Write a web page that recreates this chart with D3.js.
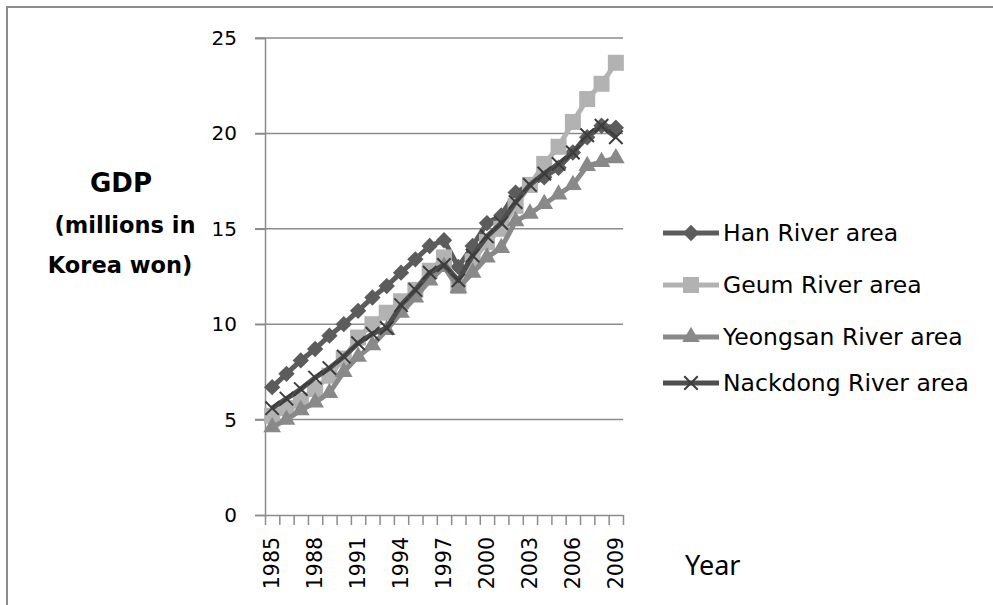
<!DOCTYPE html>
<html>
<head>
<meta charset="utf-8">
<script src="https://cdn.jsdelivr.net/npm/d3@7"></script>
<style>
  body { margin: 0; background: #fff; }
  svg { display: block; }
</style>
</head>
<body>
<div id="chart"></div>
<script>
// GDP by river basin, 1985-2009
const years = d3.range(1985, 2010).map(String);
const yTicks = [0, 5, 10, 15, 20, 25];

const hanRiver      = [6.7, 7.4, 8.1, 8.7, 9.4, 10.0, 10.7, 11.4, 12.0, 12.7, 13.4, 14.1, 14.4, 13.0, 14.1, 15.3, 15.7, 16.9, 17.3, 17.7, 18.2, 19.0, 19.8, 20.4, 20.3];
const geumRiver     = [5.2, 5.6, 6.0, 6.6, 7.3, 8.2, 9.3, 10.0, 10.6, 11.2, 11.8, 12.8, 13.5, 12.0, 13.3, 14.3, 15.0, 16.2, 17.3, 18.4, 19.3, 20.6, 21.8, 22.6, 23.7];
const yeongsanRiver = [4.6, 5.0, 5.5, 5.9, 6.4, 7.5, 8.3, 8.9, 9.7, 10.6, 11.4, 12.3, 13.0, 11.9, 12.7, 13.5, 14.0, 15.4, 15.8, 16.3, 16.8, 17.3, 18.3, 18.5, 18.7];
const nackdongRiver = [5.6, 6.1, 6.6, 7.2, 7.7, 8.3, 9.0, 9.5, 9.8, 11.0, 11.8, 12.7, 13.1, 12.3, 13.6, 14.6, 15.3, 16.4, 17.3, 17.9, 18.4, 19.0, 19.9, 20.4, 19.8];

const seriesNames = ['Han River area', 'Geum River area', 'Yeongsan River area', 'Nackdong River area'];

const series = [
  { name: seriesNames[0], values: hanRiver,      color: '#5c5c5c', marker: 'diamond' },
  { name: seriesNames[1], values: geumRiver,     color: '#b2b2b2', marker: 'square' },
  { name: seriesNames[2], values: yeongsanRiver, color: '#898989', marker: 'triangle' },
  { name: seriesNames[3], values: nackdongRiver, color: '#4e4e4e', marker: 'cross' }
];

const W = 993, H = 605;
const plotLeft = 265, plotRight = 623, plotTop = 38, plotBottom = 515;

const svg = d3.select('#chart').append('svg')
    .attr('width', W)
    .attr('height', H);

// outer frame (runs off the right and bottom edges)
svg.append('rect')
    .attr('x', 7).attr('y', 7)
    .attr('width', 1100).attr('height', 700)
    .attr('fill', 'none')
    .attr('stroke', '#8c8c8c')
    .attr('stroke-width', 2);

let x = d3.scaleBand().domain(years).range([plotLeft, plotRight]).padding(0);
let xEdge = d3.scaleLinear().domain([0, years.length]).range([plotLeft, plotRight]);
let y = d3.scaleLinear().domain([0, 25]).range([plotBottom, plotTop]);

// gridlines
svg.append('g')
    .selectAll('line')
    .data(yTicks.filter(d => d > 0))
    .join('line')
      .attr('x1', plotLeft - 10).attr('x2', plotRight)
      .attr('y1', d => y(d)).attr('y2', d => y(d))
      .attr('stroke', '#8c8c8c')
      .attr('stroke-width', 1.5);

// Y axis
let yAxis = svg.append('g')
    .attr('transform', 'translate(' + plotLeft + ',0)')
    .call(d3.axisLeft(y).tickValues(yTicks).tickSize(10).tickPadding(18));
yAxis.select('.domain').attr('stroke', '#8c8c8c').attr('stroke-width', 1.5);
yAxis.selectAll('.tick line').attr('stroke', '#8c8c8c').attr('stroke-width', 1.5);
yAxis.selectAll('.tick text')
    .attr('font-family', 'DejaVu Sans')
    .attr('font-size', 20)
    .attr('fill', '#000');

// X axis: tick marks between categories
let xTickAxis = svg.append('g')
    .attr('transform', 'translate(0,' + plotBottom + ')')
    .call(d3.axisBottom(xEdge).tickValues(d3.range(0, years.length + 1)).tickFormat('').tickSize(10).tickSizeOuter(0));
xTickAxis.select('.domain').attr('stroke', '#8c8c8c').attr('stroke-width', 1.5);
xTickAxis.selectAll('.tick line').attr('stroke', '#8c8c8c').attr('stroke-width', 1.5);

// X labels every third year, rotated
svg.append('g')
    .selectAll('text')
    .data(years.filter((d, i) => i % 3 === 0))
    .join('text')
      .attr('transform', d => 'translate(' + (x(d) + x.bandwidth() / 2 + 7) + ',' + (plotBottom + 22) + ') rotate(-90)')
      .attr('text-anchor', 'end')
      .attr('font-family', 'DejaVu Sans')
      .attr('font-size', 20.5)
      .text(d => d);

// axis titles
let yTitle = svg.append('g')
    .attr('font-family', 'DejaVu Sans')
    .attr('font-weight', 'bold')
    .attr('text-anchor', 'middle');
yTitle.append('text').attr('x', 121).attr('y', 192).attr('font-size', 26).text('GDP');
yTitle.append('text').attr('x', 125).attr('y', 233).attr('font-size', 22.5).text('(millions in');
yTitle.append('text').attr('x', 120).attr('y', 273).attr('font-size', 22.5).text('Korea won)');

svg.append('text')
    .attr('x', 685).attr('y', 575)
    .attr('font-family', 'Noto Sans')
    .attr('font-size', 27)
    .text('Year');

// marker shapes
function drawMarker(g, type, color) {
  if (type === 'diamond') {
    g.append('path').attr('d', d3.symbol(d3.symbolDiamond2, 170)()).attr('fill', color);
  } else if (type === 'square') {
    g.append('path').attr('d', d3.symbol(d3.symbolSquare, 256)()).attr('fill', color);
  } else if (type === 'triangle') {
    g.append('path').attr('d', d3.symbol(d3.symbolTriangle, 135)()).attr('fill', color);
  } else {
    g.append('path').attr('d', d3.symbol(d3.symbolTimes, 120)()).attr('stroke', color).attr('stroke-width', 2).attr('fill', 'none');
  }
}

let line = d3.line()
    .x((d, i) => x(years[i]) + x.bandwidth() / 2)
    .y(d => y(d));

series.forEach(function(s) {
  let g = svg.append('g');
  g.append('path')
      .datum(s.values)
      .attr('fill', 'none')
      .attr('stroke', s.color)
      .attr('stroke-width', 5)
      .attr('stroke-linejoin', 'round')
      .attr('d', line);
  g.selectAll('g.m')
      .data(s.values)
      .join('g')
        .attr('class', 'm')
        .attr('transform', (d, i) => 'translate(' + (x(years[i]) + x.bandwidth() / 2) + ',' + y(d) + ')')
        .each(function() { drawMarker(d3.select(this), s.marker, s.marker === 'cross' ? '#3c3c3c' : s.color); });
});

// legend
let legend = svg.append('g');
let legendY = [233, 285, 337, 383];
series.forEach(function(s, i) {
  let row = legend.append('g').attr('transform', 'translate(663,' + legendY[i] + ')');
  row.append('line')
      .attr('x1', 0).attr('x2', 56)
      .attr('stroke', s.color)
      .attr('stroke-width', 5);
  let m = row.append('g').attr('transform', 'translate(28,0)');
  drawMarker(m, s.marker, s.marker === 'cross' ? '#3c3c3c' : s.color);
  row.append('text')
      .attr('x', 60).attr('y', 8)
      .attr('font-family', 'DejaVu Sans')
      .attr('font-size', 23.5)
      .text(s.name);
});
</script>
</body>
</html>
